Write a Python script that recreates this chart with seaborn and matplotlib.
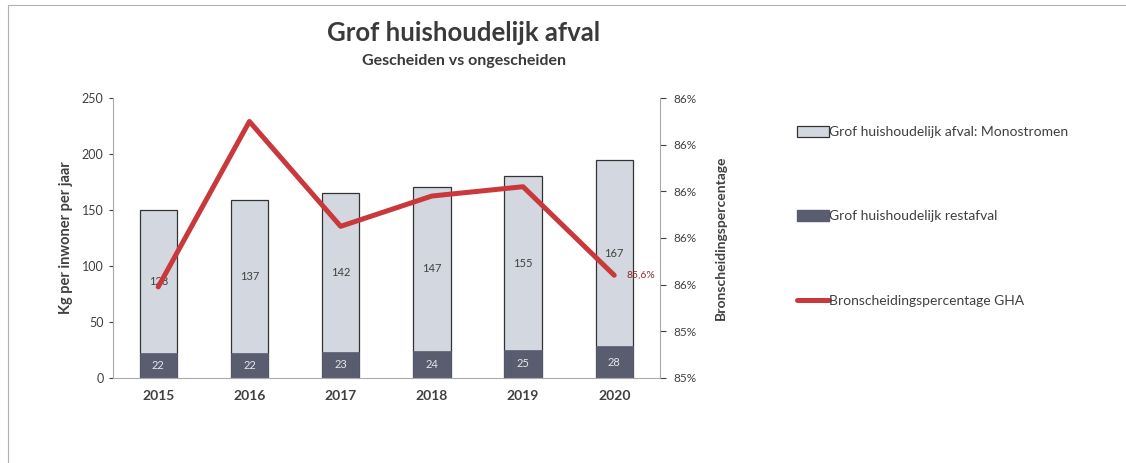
import numpy as np
import pandas as pd
from matplotlib import pyplot as plt
from matplotlib import ticker as mtick
from matplotlib.patches import Patch, Rectangle
from matplotlib.lines import Line2D
import seaborn as sns

# Data
years = ['2015', '2016', '2017', '2018', '2019', '2020']
monostromen = [128, 137, 142, 147, 155, 167]
restafval = [22, 22, 23, 24, 25, 28]
bronscheiding = [85.59, 86.30, 85.85, 85.98, 86.02, 85.64]

df = pd.DataFrame({'Jaar': years, 'Mono': monostromen, 'Rest': restafval,
                   'Pct': bronscheiding})
df['Totaal'] = df['Mono'] + df['Rest']

sns.set_style('white')
plt.rcParams['font.family'] = ['Lato', 'DejaVu Sans']

light = '#d3d7df'
dark = '#5a5d70'
red = '#c9383a'
txt = '#404040'

fig = plt.figure(figsize=(11.26, 4.63), dpi=100)
ax = fig.add_axes([0.100, 0.184, 0.486, 0.604])

# stacked bars: total first, then restafval on top of it
sns.barplot(data=df, x='Jaar', y='Totaal', color=light, saturation=1, width=0.41,
            edgecolor='#333333', linewidth=0.9, ax=ax)
sns.barplot(data=df, x='Jaar', y='Rest', color=dark, saturation=1, width=0.41,
            edgecolor=dark, linewidth=0.5, ax=ax)

for i, row in df.iterrows():
    ax.text(i, row['Rest'] + row['Mono'] / 2, str(row['Mono']), ha='center', va='center',
            fontsize=8, color=txt)
    ax.text(i, row['Rest'] / 2, str(row['Rest']), ha='center', va='center',
            fontsize=8, color='#e6e6ec')

ax.set_ylim(0, 250)
ax.set_xlim(-0.5, 5.5)
ax.yaxis.set_major_locator(mtick.MultipleLocator(50))
ax.set_xlabel('')
ax.set_ylabel('Kg per inwoner per jaar', fontsize=10.5, fontweight='bold', color=txt, labelpad=6)
ax.tick_params(axis='y', labelsize=9, colors=txt, length=3, direction='out', left=True)
ax.tick_params(axis='x', labelsize=10, colors=txt, length=0, pad=9)
for lab in ax.get_xticklabels():
    lab.set_fontweight('bold')
for s in ['top', 'right']:
    ax.spines[s].set_visible(False)
for s in ['left', 'bottom']:
    ax.spines[s].set_color('#aaaaaa')
    ax.spines[s].set_linewidth(0.8)

# percentage line on the secondary axis
ax2 = ax.twinx()
sns.pointplot(data=df, x='Jaar', y='Pct', color=red, markers='', linewidth=3.6, ax=ax2)
ax2.set_xlim(-0.5, 5.5)
ax2.set_ylim(85.2, 86.4)
ax2.yaxis.set_major_locator(mtick.MultipleLocator(0.2))
ax2.yaxis.set_major_formatter(mtick.FuncFormatter(lambda v, p: '{:.0f}%'.format(v)))
ax2.set_ylabel('Bronscheidingspercentage', fontsize=10, fontweight='bold', color=txt, labelpad=13)
ax2.set_xlabel('')
ax2.tick_params(axis='y', labelsize=8.5, colors=txt, length=4, direction='out', right=True, pad=6)
for s in ['top', 'left', 'bottom']:
    ax2.spines[s].set_visible(False)
ax2.spines['right'].set_color('#aaaaaa')
ax2.spines['right'].set_linewidth(0.8)

last = len(years) - 1
ax2.text(last + 0.13, bronscheiding[-1], '{:.1f}%'.format(bronscheiding[-1]).replace('.', ','),
         ha='left', va='center', fontsize=7.5, color='#8a2a2a')

# titles
fig.text(0.412, 0.928, 'Grof huishoudelijk afval', ha='center', va='center',
         fontsize=18.5, fontweight='bold', color='#3a3a3a')
fig.text(0.412, 0.868, 'Gescheiden vs ongescheiden', ha='center', va='center',
         fontsize=11.5, fontweight='bold', color='#3a3a3a')

# legend
handles = [Patch(facecolor=light, edgecolor='#333333', linewidth=0.9),
           Patch(facecolor=dark, edgecolor=dark),
           Line2D([0], [0], color=red, linewidth=3.6)]
labels = ['Grof huishoudelijk afval: Monostromen', 'Grof huishoudelijk restafval',
          'Bronscheidingspercentage GHA']
fig.legend(handles, labels, loc='upper left', bbox_to_anchor=(0.697, 0.755), frameon=False,
           fontsize=10, labelspacing=5.2, handlelength=2.3, handleheight=0.8,
           handletextpad=0.0, labelcolor=txt)

# outer chart border
fig.patches.append(Rectangle((0.007, -0.02), 1.0, 1.01, transform=fig.transFigure,
                             fill=False, edgecolor='#b0b0b0', linewidth=0.8))

fig.savefig('out.png', dpi=100)
